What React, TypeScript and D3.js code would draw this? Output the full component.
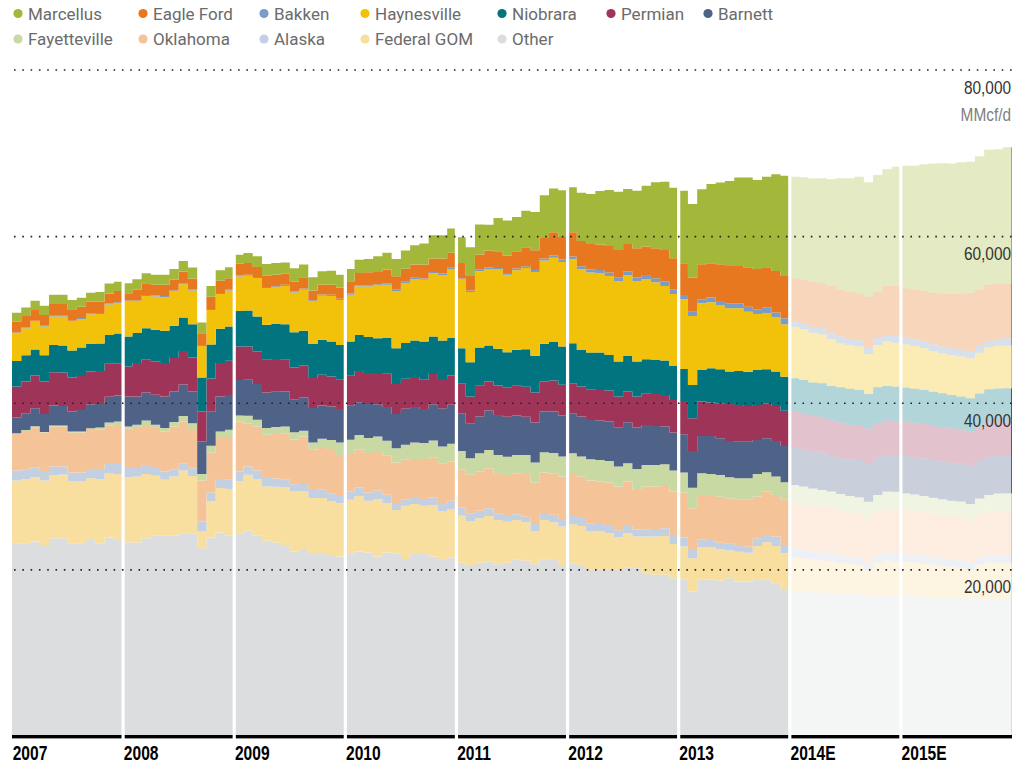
import React from "react";
import * as d3 from "d3";

// monthly output, MMcf/d, Jan 2007 .. Dec 2015 (2014-2015 are estimates)
const years = ["2007", "2008", "2009", "2010", "2011", "2012", "2013", "2014E", "2015E"];
const firstEstimate = 84; // Jan 2014

const other = [
  23200, 23200, 23400, 23000, 23800, 23800, 23200, 23200, 23600, 23200, 23900, 23600,
  23300, 23300, 23800, 24100, 24100, 24100, 24400, 24400, 22600, 23900, 24500, 24100,
  24400, 24700, 24100, 23500, 23300, 23000, 22200, 22500, 21900, 21900, 21800, 21600,
  21900, 22200, 22100, 21600, 22100, 22000, 21300, 21900, 21900, 21600, 21200, 21500,
  20870, 20480, 20870, 20990, 20680, 20870, 21280, 21110, 20680, 21280, 21200, 20600,
  20800, 20600, 20080, 20080, 20080, 20080, 20320, 20200, 19600, 19400, 19400, 19000,
  18880, 17390, 18880, 18800, 18710, 19000, 18590, 18590, 18880, 18880, 18400, 17590,
  17390, 17360, 17300, 17280, 17200, 17160, 17100, 17080, 17020, 16990, 16960, 16900,
  16880, 16820, 16800, 16740, 16720, 16660, 16640, 16600, 16540, 16520, 16460, 16400,
];
const federalGom = [
  7520, 7680, 7720, 7720, 7600, 7640, 7400, 7400, 7400, 7680, 7680, 7920,
  7800, 7920, 7720, 7200, 6720, 7120, 7520, 6880, 2000, 4360, 5320, 5600,
  6280, 6720, 6800, 6520, 6680, 6880, 7200, 6920, 6720, 6720, 6400, 6400,
  6520, 6680, 6200, 6880, 5920, 5200, 6400, 6000, 5800, 6200, 5800, 5800,
  5640, 5320, 5330, 5490, 5320, 4920, 4720, 4610, 4000, 4720, 4530, 4600,
  4680, 4680, 4520, 4520, 4320, 3840, 4080, 3800, 4400, 4600, 4680, 4120,
  3920, 4000, 3840, 3880, 3760, 3320, 3600, 3480, 4000, 4440, 4480, 4400,
  4200, 4040, 3960, 3880, 3840, 3680, 3600, 3480, 2960, 3880, 4160, 4080,
  4120, 4040, 3960, 3880, 3760, 3680, 3600, 3400, 4080, 4360, 4360, 4400,
];
const alaska = [
  1200, 1200, 1200, 1160, 1000, 960, 1080, 1080, 1120, 1120, 1120, 1200,
  1120, 1000, 1080, 920, 1000, 800, 880, 920, 1200, 1040, 1080, 1120,
  1120, 1000, 1040, 1000, 1000, 1000, 880, 880, 1080, 1000, 1000, 1000,
  1000, 1000, 1000, 1040, 1000, 720, 720, 720, 800, 880, 920, 1000,
  1010, 1010, 910, 920, 800, 680, 680, 670, 840, 720, 880, 800,
  1000, 960, 1000, 920, 880, 840, 880, 840, 880, 900, 920, 960,
  1080, 1000, 960, 920, 800, 880, 680, 720, 920, 880, 1120, 1000,
  1000, 1000, 1000, 960, 960, 920, 880, 880, 880, 920, 960, 1000,
  1000, 1000, 960, 960, 920, 920, 880, 880, 880, 920, 960, 1000,
];
const oklahoma = [
  4400, 4600, 4800, 4600, 4800, 4800, 4800, 4800, 4680, 4880, 4600, 4680,
  4720, 4800, 4800, 4800, 4800, 5200, 5000, 4720, 4920, 4800, 4920, 5120,
  6000, 5120, 5280, 5200, 5320, 5520, 5360, 5720, 4720, 5000, 5200, 4800,
  4600, 4600, 4720, 4760, 4680, 4960, 4800, 4680, 4800, 4840, 4880, 4720,
  4560, 4600, 4680, 4800, 4720, 4920, 4920, 5120, 4960, 4960, 4920, 5200,
  5040, 4960, 5120, 5080, 5200, 5240, 5320, 4760, 5120, 5100, 5080, 5320,
  5400, 5000, 5320, 5400, 5520, 5400, 5600, 5680, 5000, 5200, 5000, 5480,
  5400, 5480, 5440, 5480, 5400, 5360, 5280, 5280, 5320, 5200, 5200, 5280,
  5200, 5200, 5200, 5200, 5200, 5200, 5280, 5240, 5200, 5200, 5280, 5280,
];
const fayetteville = [
  80, 120, 120, 80, 120, 120, 120, 120, 200, 200, 400, 400,
  280, 400, 520, 400, 400, 520, 680, 680, 800, 800, 800, 880,
  720, 960, 800, 800, 840, 800, 880, 680, 880, 1120, 1200, 1480,
  1600, 1720, 1800, 1720, 1800, 1720, 1800, 2000, 1920, 2000, 2000, 2120,
  2200, 2000, 2210, 2200, 2280, 2200, 2200, 2280, 2400, 2450, 2490, 2400,
  2480, 2400, 2560, 2600, 2600, 2400, 2200, 2520, 2600, 2600, 2600, 2520,
  2400, 2480, 2600, 2520, 2600, 2520, 2520, 2520, 2720, 2320, 2200, 2040,
  2200, 2120, 2080, 2000, 2000, 2000, 2000, 2000, 2000, 2000, 2120, 2120,
  2000, 2000, 1960, 1880, 1880, 1840, 1800, 1800, 1880, 2000, 2120, 2120,
];
const barnett = [
  1880, 2000, 2160, 2160, 2400, 2360, 2400, 2600, 2880, 2840, 3080, 3120,
  3600, 3400, 3360, 3600, 3800, 3680, 3760, 3800, 3880, 4080, 4200, 4160,
  4280, 4320, 4280, 4280, 4240, 4200, 3960, 4000, 4120, 4000, 4000, 4040,
  4080, 3920, 4080, 3880, 4040, 4120, 4320, 4240, 4080, 4360, 4600, 4680,
  4530, 4200, 4400, 4720, 4800, 4800, 4720, 4600, 4800, 4880, 5000, 4920,
  4800, 4800, 4720, 4720, 4720, 4720, 4920, 4960, 4800, 4680, 4520, 4560,
  4600, 4400, 4480, 4560, 4400, 4360, 4400, 4400, 4080, 4080, 4280, 4360,
  4480, 4480, 4480, 4480, 4280, 4320, 4400, 4480, 4520, 4520, 4400, 4280,
  4480, 4440, 4480, 4520, 4520, 4560, 4600, 4640, 4520, 4520, 4480, 4480,
];
const permian = [
  3720, 3800, 3920, 3880, 4000, 4000, 4080, 4080, 3920, 3960, 3960, 3880,
  3600, 4000, 4000, 4000, 4000, 4000, 4040, 4080, 3600, 4000, 4000, 4120,
  4000, 4000, 3920, 3920, 3920, 3880, 3800, 3840, 3600, 3680, 3600, 3560,
  3600, 3760, 3720, 3640, 4000, 3600, 3600, 3600, 3520, 3640, 3520, 3520,
  3600, 3190, 3700, 3480, 3520, 3530, 3570, 3600, 3600, 3600, 3720, 3690,
  3600, 3600, 3680, 3680, 3720, 3680, 3680, 3720, 3800, 3840, 3800, 3920,
  4000, 3920, 4120, 4000, 4200, 4440, 4400, 4280, 4200, 4200, 4200, 4240,
  4320, 4320, 4200, 4240, 4240, 4240, 4120, 4080, 4280, 4080, 4120, 4120,
  4120, 4160, 4160, 4080, 4120, 4120, 4080, 4040, 4080, 4160, 4240, 4240,
];
const niobrara = [
  3080, 3160, 3120, 3160, 3280, 3240, 3240, 3400, 3320, 3280, 3440, 3560,
  3600, 3600, 3720, 3800, 3880, 3880, 4000, 4000, 4080, 4080, 4120, 4120,
  4280, 4320, 4200, 4200, 4200, 4200, 4240, 4160, 4080, 4200, 4200, 4120,
  4120, 4320, 4320, 4280, 4280, 4280, 4280, 4400, 4600, 4480, 4600, 4480,
  4200, 4130, 4590, 4320, 4410, 4200, 4320, 4490, 4410, 4530, 4610, 4600,
  4800, 4400, 4400, 4480, 4280, 4200, 4280, 4200, 4080, 4080, 4120, 4080,
  3840, 4000, 3800, 4120, 4080, 3880, 4080, 4120, 4200, 4080, 4120, 4080,
  4000, 4000, 4040, 4080, 4160, 4240, 4360, 4320, 4120, 4320, 4160, 4200,
  4080, 4080, 4080, 4120, 4080, 4000, 3920, 4000, 4000, 4000, 3880, 3880,
];
const haynesville = [
  3320, 3240, 3360, 3440, 3400, 3480, 3480, 3440, 3560, 3560, 3680, 3640,
  4200, 3800, 3880, 4000, 4040, 4120, 4000, 4040, 3800, 4120, 4160, 4320,
  4120, 4160, 4600, 4400, 4400, 4600, 4760, 4920, 5120, 5280, 5480, 5400,
  5600, 5800, 6080, 6320, 6400, 6880, 7200, 7360, 7400, 7600, 7880, 8280,
  8230, 8420, 9150, 9190, 9510, 9310, 9550, 9740, 10060, 9990, 10100, 10150,
  10080, 9680, 9600, 9520, 9480, 9680, 9720, 9600, 9640, 9320, 8960, 8640,
  8360, 8280, 8000, 7920, 7720, 7600, 7520, 7200, 6720, 6720, 6480, 6280,
  6200, 6120, 5960, 5880, 5640, 5280, 5240, 5200, 4800, 5080, 5320, 5280,
  5200, 5120, 5000, 4880, 4800, 4800, 4800, 4800, 4880, 5040, 5120, 5120,
];
const bakken = [
  100, 100, 100, 100, 100, 100, 110, 110, 110, 110, 110, 110,
  110, 110, 120, 120, 120, 120, 120, 120, 120, 120, 130, 130,
  130, 130, 130, 130, 130, 130, 130, 140, 140, 140, 140, 140,
  140, 140, 140, 150, 150, 150, 150, 150, 160, 160, 160, 160,
  170, 170, 180, 190, 200, 200, 210, 220, 240, 250, 270, 300,
  340, 360, 380, 400, 420, 440, 440, 480, 480, 480, 520, 560,
  520, 520, 480, 560, 480, 600, 600, 600, 560, 720, 600, 720,
  680, 680, 720, 720, 760, 800, 720, 720, 840, 800, 800, 800,
  800, 800, 800, 800, 800, 800, 800, 880, 800, 720, 800, 880,
];
const eagleFord = [
  1280, 1360, 1280, 1280, 1400, 1400, 1360, 1360, 1400, 1360, 1200, 1360,
  880, 1280, 1400, 1280, 1360, 1280, 1400, 1320, 1400, 1480, 1480, 1320,
  1400, 1400, 1200, 1360, 1400, 1320, 1200, 1360, 1160, 1200, 1200, 1360,
  1480, 1480, 1560, 1480, 1680, 1600, 1560, 1600, 1680, 1600, 1800, 1800,
  1820, 1840, 1830, 2020, 2000, 2080, 2070, 2270, 2370, 2550, 2820, 2700,
  2900, 3040, 3060, 3040, 3180, 3280, 3280, 3520, 3400, 3600, 3800, 3720,
  3800, 4080, 4200, 4120, 4400, 4480, 4480, 4720, 4840, 4800, 5000, 5080,
  5120, 5200, 5400, 5400, 5600, 5600, 5720, 5680, 6080, 5600, 5880, 6000,
  5920, 6000, 6120, 6200, 6320, 6520, 6720, 7000, 6720, 6800, 6600, 6520,
];
const marcellus = [
  1080, 1040, 1120, 1120, 1120, 1120, 1120, 1080, 1080, 1160, 1200, 1120,
  1200, 1280, 1200, 1200, 1200, 1280, 1280, 1320, 1280, 1280, 1240, 1320,
  1100, 1200, 1280, 1400, 1400, 1360, 1600, 1520, 1600, 1600, 1680, 1520,
  1480, 1600, 1600, 1880, 2000, 2080, 2200, 2320, 2520, 2800, 2800, 2920,
  3090, 3360, 3600, 3120, 4000, 4240, 4120, 4410, 4600, 5040, 5250, 5610,
  5400, 5800, 6000, 6440, 6720, 7000, 6600, 6920, 7320, 7920, 8200, 8480,
  8720, 8840, 9000, 9520, 9840, 10200, 10640, 10800, 10680, 10880, 11600, 12040,
  12200, 12320, 12400, 12600, 12800, 13400, 13600, 14000, 13720, 14000, 14000, 14320,
  14720, 14840, 15160, 15520, 15680, 15680, 15800, 15720, 16080, 16200, 16200, 16400,
];

const gridValues = [20000, 40000, 60000, 80000];

// bottom to top
const stackNames = [
  "Other", "Federal GOM", "Alaska", "Oklahoma", "Fayetteville", "Barnett",
  "Permian", "Niobrara", "Haynesville", "Bakken", "Eagle Ford", "Marcellus",
];
const seriesValues: Record<string, number[]> = {
  "Other": other,
  "Federal GOM": federalGom,
  "Alaska": alaska,
  "Oklahoma": oklahoma,
  "Fayetteville": fayetteville,
  "Barnett": barnett,
  "Permian": permian,
  "Niobrara": niobrara,
  "Haynesville": haynesville,
  "Bakken": bakken,
  "Eagle Ford": eagleFord,
  "Marcellus": marcellus,
};

const colors: Record<string, string> = {
  "Marcellus": "#a3b83b",
  "Eagle Ford": "#e8781f",
  "Bakken": "#7b9cc4",
  "Haynesville": "#f2c10a",
  "Niobrara": "#017480",
  "Permian": "#9e3559",
  "Barnett": "#4f6388",
  "Fayetteville": "#c9d9a3",
  "Oklahoma": "#f5c398",
  "Alaska": "#c2d0e2",
  "Federal GOM": "#f8dfa0",
  "Other": "#dcdddf",
};

const legendRows = [
  ["Marcellus", "Eagle Ford", "Bakken", "Haynesville", "Niobrara", "Permian", "Barnett"],
  ["Fayetteville", "Oklahoma", "Alaska", "Federal GOM", "Other"],
];
const legendX = [18, 143, 264, 365, 502, 611, 708];

// no condensed face installed, so squeeze Liberation Sans a bit
const labelFont = "'Liberation Sans', Arial, sans-serif";

export default function App() {
  const width = 1031;
  const height = 765;
  const months = other.length;

  const x = d3.scaleLinear().domain([0, months]).range([12, 1012]);
  const y = d3.scaleLinear().domain([0, 80000]).range([736.5, 70]);

  const rows = d3.range(months).map((i) => {
    const r: Record<string, number> = {};
    stackNames.forEach((k) => (r[k] = seriesValues[k][i]));
    return r;
  });
  const layers = d3.stack<Record<string, number>>().keys(stackNames)(rows);

  const area = d3
    .area<[number, number, number]>()
    .x((d) => x(d[0]))
    .y0((d) => y(d[1]))
    .y1((d) => y(d[2]))
    .curve(d3.curveStepAfter);

  const segment = (layer: any, from: number, to: number) => {
    const pts: [number, number, number][] = d3
      .range(from, to)
      .map((i) => [i, layer[i][0], layer[i][1]]);
    pts.push([to, layer[to - 1][0], layer[to - 1][1]]);
    return area(pts) || "";
  };

  const fmt = d3.format(",");

  return (
    <svg width={width} height={height} style={{ position: "absolute", left: 0, top: 0 }}>
      <rect width={width} height={height} fill="#fff" />

      {legendRows.map((row, r) =>
        row.map((name, c) => (
          <g key={name} transform={`translate(${legendX[c]},${r === 0 ? 13.5 : 39})`}>
            <circle r={4.6} fill={colors[name]} />
            <text x={10} y={6} fontFamily="Roboto, sans-serif" fontSize={17} fill="#6b6b6b">
              {name}
            </text>
          </g>
        ))
      )}

      {layers.map((layer) => (
        <g key={layer.key}>
          <path d={segment(layer, 0, firstEstimate)} fill={colors[layer.key]} />
          <path d={segment(layer, firstEstimate, months)} fill={colors[layer.key]} fillOpacity={0.3} />
          <rect
            x={x(months) - 1}
            width={1}
            y={y(layer[months - 1][1])}
            height={y(layer[months - 1][0]) - y(layer[months - 1][1])}
            fill={colors[layer.key]}
          />
        </g>
      ))}

      <rect x={x(0)} y={735} width={x(months) - x(0)} height={3.4} fill="#000" />

      {years.slice(1).map((yr, i) => (
        <rect key={yr} x={x((i + 1) * 12) - 1.6} y={60} width={3.2} height={682} fill="#fff" />
      ))}

      {gridValues.map((v) => (
        <g key={v}>
          <line
            x1={x(0) + 2}
            x2={x(months)}
            y1={y(v)}
            y2={y(v)}
            stroke="#222"
            strokeWidth={1.6}
            strokeDasharray="1.6 6.7"
          />
          <text
            transform={`translate(1011,${y(v) + 23.5}) scale(0.88,1)`}
            textAnchor="end"
            fontFamily={labelFont}
            fontSize={17.5}
            fill="#333"
          >
            {fmt(v)}
          </text>
        </g>
      ))}
      <text
        transform={`translate(1011,${y(80000) + 51}) scale(0.88,1)`}
        textAnchor="end"
        fontFamily={labelFont}
        fontSize={17.5}
        fill="#808080"
      >
        MMcf/d
      </text>

      {years.map((yr, i) => (
        <text
          key={yr}
          transform={`translate(${x(i * 12) + 0.7},759.5) scale(0.78,1)`}
          fontFamily={labelFont}
          fontWeight="bold"
          fontSize={20}
          fill="#000"
        >
          {yr}
        </text>
      ))}
    </svg>
  );
}
